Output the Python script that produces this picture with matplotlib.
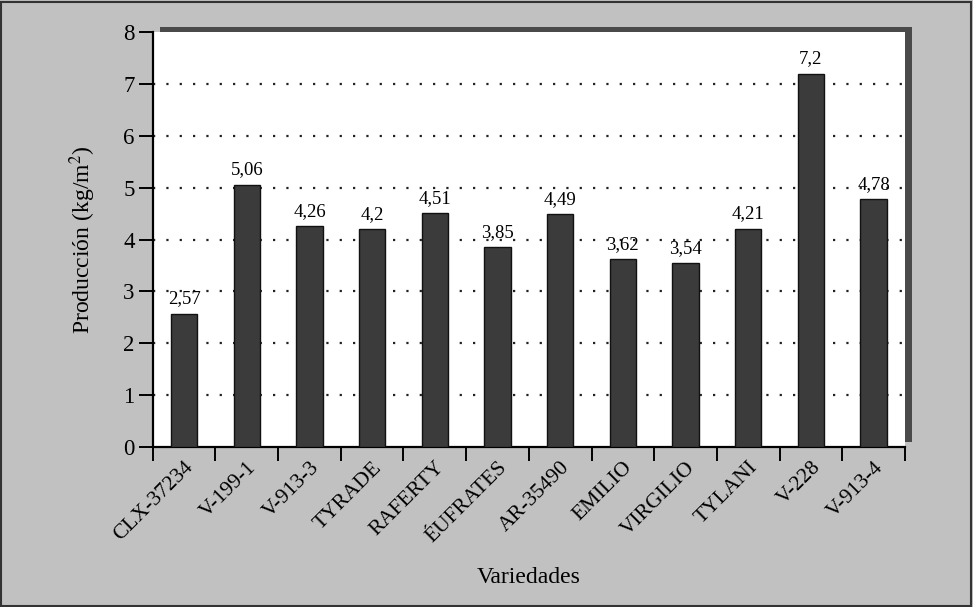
import numpy as np
import matplotlib
matplotlib.use("Agg")
import matplotlib.pyplot as plt
from matplotlib.patches import Rectangle

variedades = ["CLX-37234", "V-199-1", "V-913-3", "TYRADE", "RAFERTY", "ÉUFRATES",
              "AR-35490", "EMILIO", "VIRGILIO", "TYLANI", "V-228", "V-913-4"]
produccion = [2.57, 5.06, 4.26, 4.2, 4.51, 3.85, 4.49, 3.62, 3.54, 4.21, 7.2, 4.78]
etiquetas = ["2,57", "5,06", "4,26", "4,2", "4,51", "3,85", "4,49", "3,62", "3,54",
             "4,21", "7,2", "4,78"]

plt.rcParams["font.family"] = ["Liberation Serif", "DejaVu Serif"]
plt.rcParams["mathtext.fontset"] = "stix"

fig = plt.figure(figsize=(9.73, 6.07), dpi=100)
fig.patch.set_facecolor("#c1c1c1")
fig.patches.append(Rectangle((0.001, 0.002), 0.997, 0.995, transform=fig.transFigure,
                             fill=False, edgecolor="#333333", linewidth=1.5))

# shadow behind the plot area (top and right)
sh = fig.add_axes([0.164, 0.2720, 0.773, 0.6835])
sh.set_facecolor("#4a4a4a")
sh.set_xticks([])
sh.set_yticks([])
for s in sh.spines.values():
    s.set_visible(False)

ax = fig.add_axes([0.157, 0.2636, 0.773, 0.6834])
ax.set_facecolor("white")

x = np.arange(len(variedades))
ax.bar(x, produccion, width=0.42, color="#3b3b3b", edgecolor="#111111",
       linewidth=1.0, zorder=3)

for xi, v, t in zip(x, produccion, etiquetas):
    ax.text(xi, v + 0.12, t, ha="center", va="bottom", fontsize=13.5, zorder=4)

ax.set_xlim(-0.5, len(variedades) - 0.5)
ax.set_ylim(0, 8)
ax.set_yticks(range(0, 9))
ax.tick_params(axis="y", labelsize=16.5, length=10, width=1.4, direction="out", pad=3)
for yv in range(1, 8):
    ax.axhline(yv, color="#222222", linestyle=(0, (1, 5)), linewidth=1.6, zorder=1)

ax.set_xticks(x)
ax.set_xticklabels(variedades, rotation=45, ha="right", va="top",
                   rotation_mode="anchor", fontsize=15.5)
ax.tick_params(axis="x", which="major", length=0, pad=8)
ax.set_xticks(np.arange(-0.5, len(variedades)), minor=True)
ax.tick_params(axis="x", which="minor", length=10, width=1.4, direction="out")

ax.spines["top"].set_visible(False)
ax.spines["right"].set_visible(False)
ax.spines["left"].set_linewidth(1.6)
ax.spines["bottom"].set_linewidth(1.6)

ax.set_ylabel("Producción (kg/m$^2$)", fontsize=17, labelpad=18)
ax.set_xlabel("Variedades", fontsize=17)
ax.xaxis.set_label_coords(0.5, -0.29)

fig.savefig("out.png", dpi=100, facecolor=fig.get_facecolor())
